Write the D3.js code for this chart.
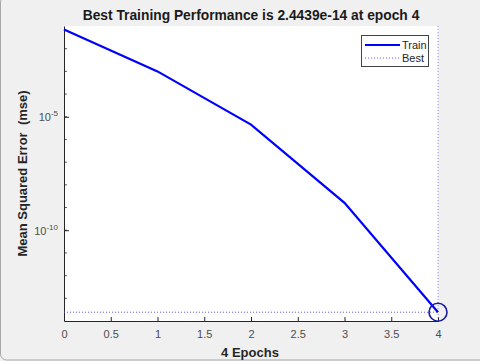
<!DOCTYPE html>
<html>
<head>
<meta charset="utf-8">
<script src="https://cdn.jsdelivr.net/npm/d3@7"></script>
<style>
  html, body { margin: 0; padding: 0; background: #f0f0f0; }
  svg { display: block; font-family: "Liberation Sans", Arial, sans-serif; }
</style>
</head>
<body>
<svg id="chart" width="480" height="361"></svg>
<script>
// values
var epochs = [0, 1, 2, 3, 4];
var trainMse = [0.07, 1e-3, 4.5e-6, 1.6e-9, 2.4439e-14];
var bestEpoch = 4;
var bestMse = 2.4439e-14;
var xTicks = [0, 0.5, 1, 1.5, 2, 2.5, 3, 3.5, 4];
var yMajor = [1e-5, 1e-10];
var yExps = [-5, -10];

var svg = d3.select("#chart");
var m = { left: 64, right: 42, top: 26, bottom: 40 };
var W = 480, H = 361;

var x = d3.scaleLinear().domain([0, 4]).range([m.left, W - m.right]);
var y = d3.scaleLog().domain([1e-14, 1e-1]).range([H - m.bottom, m.top]);

// window frame
svg.append("rect").attr("x", 0.5).attr("y", -4).attr("width", 490).attr("height", 364)
  .attr("rx", 6).attr("fill", "#f0f0f0").attr("stroke", "#a8a8a8");

// plot area
svg.append("rect")
  .attr("x", m.left).attr("y", m.top)
  .attr("width", x(4) - m.left).attr("height", y(1e-14) - m.top)
  .attr("fill", "#fff");

// minor decade ticks on the left
var decades = d3.range(-13, -1).map(function(e) { return Math.pow(10, e); });
svg.append("g").selectAll("line").data(decades).join("line")
  .attr("x1", m.left).attr("x2", m.left + 3)
  .attr("y1", function(d) { return y(d); }).attr("y2", function(d) { return y(d); })
  .attr("stroke", "#333").attr("stroke-width", 0.8);

// y axis (major)
var yAxis = d3.axisLeft(y).tickValues(yMajor).tickSizeInner(-5).tickSizeOuter(0)
  .tickFormat(function() { return ""; });
var yg = svg.append("g").attr("transform", "translate(" + m.left + ",0)").call(yAxis);
yg.select(".domain").attr("stroke", "#262626");
yg.selectAll(".tick line").attr("stroke", "#262626");
yg.selectAll(".tick").each(function(d, i) {
  var t = d3.select(this).append("text").attr("x", -6).attr("y", 4)
    .attr("text-anchor", "end").attr("fill", "#4d4d4d").attr("font-size", 11);
  t.append("tspan").text("10");
  t.append("tspan").attr("dy", -5).attr("font-size", 8).text(String(yExps[i]));
});

// x axis
var xAxis = d3.axisBottom(x).tickValues(xTicks).tickSizeInner(-4).tickSizeOuter(0)
  .tickPadding(9).tickFormat(d3.format("~g"));
var xg = svg.append("g").attr("transform", "translate(0," + y(1e-14) + ")").call(xAxis);
xg.select(".domain").attr("stroke", "#262626");
xg.selectAll(".tick line").attr("stroke", "#262626");
xg.selectAll(".tick text").attr("fill", "#4d4d4d").attr("font-size", 11)
  .attr("font-family", "Liberation Sans, Arial, sans-serif");

// best markers
svg.append("line")
  .attr("x1", m.left).attr("x2", x(4))
  .attr("y1", y(bestMse)).attr("y2", y(bestMse))
  .attr("stroke", "#5555ff").attr("stroke-dasharray", "1,2");
svg.append("line")
  .attr("x1", x(bestEpoch)).attr("x2", x(bestEpoch))
  .attr("y1", m.top).attr("y2", y(1e-14))
  .attr("stroke", "#8888ff").attr("stroke-dasharray", "1,2");

// train line
var line = d3.line().x(function(d, i) { return x(epochs[i]); }).y(function(d) { return y(d); });
svg.append("path").datum(trainMse).attr("d", line)
  .attr("fill", "none").attr("stroke", "#0000ff").attr("stroke-width", 2.2);

// best circle
svg.append("circle").attr("cx", x(bestEpoch)).attr("cy", y(bestMse)).attr("r", 9)
  .attr("fill", "none").attr("stroke", "#1a1aa0").attr("stroke-width", 1.6);

// legend
var lg = svg.append("g").attr("transform", "translate(361,35)");
lg.append("rect").attr("x", 0.5).attr("y", 0.5).attr("width", 67).attr("height", 31)
  .attr("fill", "#fff").attr("stroke", "#444");
lg.append("line").attr("x1", 4).attr("x2", 39).attr("y1", 10).attr("y2", 10)
  .attr("stroke", "#0000ff").attr("stroke-width", 2.2);
lg.append("line").attr("x1", 4).attr("x2", 38).attr("y1", 23).attr("y2", 23)
  .attr("stroke", "#5555ff").attr("stroke-dasharray", "1,2");
lg.append("text").attr("x", 41).attr("y", 14).attr("font-size", 11).attr("fill", "#262626").text("Train");
lg.append("text").attr("x", 41).attr("y", 27).attr("font-size", 11).attr("fill", "#262626").text("Best");

// title and labels
svg.append("text").attr("x", 251).attr("y", 20).attr("text-anchor", "middle")
  .attr("font-size", 13.8).attr("font-weight", "bold").attr("fill", "#1a1a1a")
  .text("Best Training Performance is 2.4439e-14 at epoch 4");
svg.append("text").attr("x", 250).attr("y", 357).attr("text-anchor", "middle")
  .attr("font-size", 13).attr("font-weight", "bold").attr("fill", "#262626")
  .text("4 Epochs");
svg.append("text").attr("transform", "translate(27," + ((m.top + y(1e-14)) / 2) + ") rotate(-90)")
  .attr("text-anchor", "middle").attr("font-size", 13).attr("font-weight", "bold")
  .attr("fill", "#262626").attr("xml:space", "preserve").text("Mean Squared Error  (mse)");
</script>
</body>
</html>
